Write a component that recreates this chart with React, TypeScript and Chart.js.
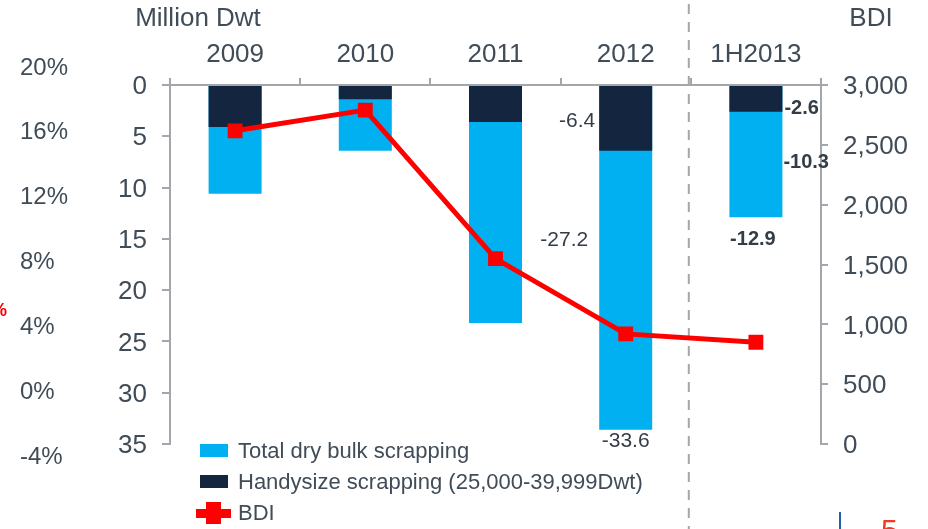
import React, { useEffect, useRef } from 'react';
import { Chart, registerables } from 'chart.js';

Chart.register(...registerables);

// ---------------- data ----------------
const categories = ['2009', '2010', '2011', '2012', '1H2013'];
const totalScrapping = [10.6, 6.4, 23.2, 33.6, 12.9];
const handysizeScrapping = [4.1, 1.4, 3.6, 6.4, 2.6];
const bdiValues = [2617, 2790, 1549, 920, 850];
const dwtTicks = [0, 5, 10, 15, 20, 25, 30, 35];
const bdiTicks = [0, 500, 1000, 1500, 2000, 2500, 3000];
const pctTicks = [-4, 0, 4, 8, 12, 16, 20];

const seriesLabels = {
  total: 'Total dry bulk scrapping',
  handy: 'Handysize scrapping (25,000-39,999Dwt)',
  bdi: 'BDI',
};

// ---------------- styles ----------------
const FONT = "'Liberation Sans', Arial, sans-serif";
const TEXT = '#404c57';
const LABEL = '#333d47';
const AXIS = '#a3a7ab';
const LIGHT = '#00b0f0';
const NAVY = '#13253f';
const RED = '#ff0000';
const PCT_MIN = -3.26;
const PCT_MAX = 18.89;

const fmt = (v: number) => '-' + v.toFixed(1);

const decorPlugin = {
  id: 'decor',
  beforeDatasetsDraw(chart: any) {
    const { ctx } = chart;
    const xs = chart.scales.x;
    const xDash = (xs.getPixelForValue(3) + xs.getPixelForValue(4)) / 2 - 2;
    ctx.save();
    ctx.strokeStyle = '#a6a6a6';
    ctx.lineWidth = 2;
    ctx.setLineDash([10, 8]);
    ctx.beginPath();
    ctx.moveTo(xDash, 4);
    ctx.lineTo(xDash, chart.height);
    ctx.stroke();
    ctx.restore();
  },
  afterDraw(chart: any) {
    const { ctx, chartArea } = chart;
    const ys = chart.scales.y;
    const y1 = chart.scales.y1;
    ctx.save();
    // axis titles
    ctx.fillStyle = TEXT;
    ctx.font = `26px ${FONT}`;
    ctx.textAlign = 'center';
    ctx.textBaseline = 'middle';
    ctx.fillText('Million Dwt', ys.right + 28, chartArea.top - 66);
    ctx.fillText('BDI', y1.left + 50, chartArea.top - 66);

    // legend
    const order = [1, 2, 0];
    const lx = chartArea.left + 30;
    order.forEach((di, row) => {
      const ds = chart.data.datasets[di];
      const cy = chartArea.bottom + 7 + row * 31;
      if (ds.type === 'line') {
        ctx.fillStyle = RED;
        ctx.fillRect(lx - 4, cy - 4, 35, 9);
        ctx.fillRect(lx + 6, cy - 11, 15, 22);
      } else {
        ctx.fillStyle = ds.backgroundColor;
        ctx.fillRect(lx, cy - 7, 28, 13);
      }
      ctx.fillStyle = TEXT;
      ctx.font = `22px ${FONT}`;
      ctx.textAlign = 'left';
      ctx.textBaseline = 'middle';
      ctx.fillText(ds.label, lx + 38, cy + 1);
    });

    // slide remnants
    ctx.fillStyle = RED;
    ctx.font = `bold 18px ${FONT}`;
    ctx.textAlign = 'left';
    ctx.fillText('%', -9, 311);
    ctx.fillStyle = '#1f5fad';
    ctx.fillRect(839, 512, 2, 20);
    ctx.fillStyle = '#ef3b24';
    ctx.font = `30px ${FONT}`;
    ctx.textBaseline = 'top';
    ctx.fillText('5', 881, 517);
    ctx.restore();
  },
};

const labelPlugin = {
  id: 'barLabels',
  afterDatasetsDraw(chart: any) {
    const { ctx } = chart;
    const ys = chart.scales.y;
    const totalMeta = chart.getDatasetMeta(1);
    const y0 = ys.getPixelForValue(0);
    const put = (text: string, x: number, y: number, align: string, bold: boolean) => {
      ctx.save();
      ctx.fillStyle = LABEL;
      ctx.font = `${bold ? 'bold 20px' : '21px'} ${FONT}`;
      ctx.textAlign = align;
      ctx.textBaseline = 'middle';
      ctx.fillText(text, x, y);
      ctx.restore();
    };
    // 2012
    {
      const i = 3;
      const bar = totalMeta.data[i];
      const left = bar.x - bar.width / 2;
      const yH = ys.getPixelForValue(handysizeScrapping[i]);
      const yT = ys.getPixelForValue(totalScrapping[i]);
      put(fmt(handysizeScrapping[i]), left - 4, (y0 + yH) / 2 + 3, 'right', false);
      put(fmt(totalScrapping[i] - handysizeScrapping[i]), left - 11, yH + 0.32 * (yT - yH), 'right', false);
      put(fmt(totalScrapping[i]), bar.x, yT + 12, 'center', false);
    }
    // 1H2013
    {
      const i = 4;
      const bar = totalMeta.data[i];
      const right = bar.x + bar.width / 2;
      const yH = ys.getPixelForValue(handysizeScrapping[i]);
      const yT = ys.getPixelForValue(totalScrapping[i]);
      put(fmt(handysizeScrapping[i]), right + 2, yH - 3, 'left', true);
      put(fmt(totalScrapping[i] - handysizeScrapping[i]), right + 1, (yH + yT) / 2 - 2, 'left', true);
      put(fmt(totalScrapping[i]), bar.x - 3, yT + 22, 'center', true);
    }
  },
};

export default function App() {
  const ref = useRef<HTMLCanvasElement | null>(null);

  useEffect(() => {
    if (!ref.current) return;
    const tickFont = { family: FONT, size: 26 };
    const chart = new Chart(ref.current, {
      type: 'bar',
      data: {
        labels: categories,
        datasets: [
          {
            type: 'line',
            label: seriesLabels.bdi,
            data: bdiValues,
            yAxisID: 'y1',
            borderColor: RED,
            backgroundColor: RED,
            borderWidth: 5,
            pointStyle: 'rect',
            pointRadius: 10.5,
            pointBorderWidth: 0,
            pointBackgroundColor: RED,
            tension: 0,
            order: 0,
          } as any,
          {
            type: 'bar',
            label: seriesLabels.total,
            data: totalScrapping,
            yAxisID: 'y',
            backgroundColor: LIGHT,
            barPercentage: 0.407,
            categoryPercentage: 1,
            order: 2,
          },
          {
            type: 'bar',
            label: seriesLabels.handy,
            data: handysizeScrapping,
            yAxisID: 'y',
            backgroundColor: NAVY,
            barPercentage: 0.407,
            categoryPercentage: 1,
            order: 1,
          },
        ],
      },
      options: {
        responsive: false,
        animation: false,
        layout: { padding: { top: 35, left: 20, right: 0, bottom: 85 } },
        plugins: { legend: { display: false }, tooltip: { enabled: false }, title: { display: false } },
        scales: {
          x: {
            type: 'category',
            position: 'top',
            stacked: true,
            offset: true,
            grid: { display: true, drawOnChartArea: false, tickLength: 7, color: AXIS, lineWidth: 2, offset: true },
            border: { display: true, color: AXIS, width: 2 },
            ticks: { font: tickFont, color: TEXT, padding: 8, maxRotation: 0, autoSkip: false },
            afterFit: (s: any) => { s.height = 50; },
          },
          y: {
            type: 'linear',
            position: 'left',
            reverse: true,
            min: 0,
            max: 35,
            weight: 0,
            grid: { drawOnChartArea: false, tickLength: 8, color: AXIS, lineWidth: 2 },
            border: { color: AXIS, width: 2 },
            ticks: { font: tickFont, color: TEXT, padding: 15, autoSkip: false, labelOffset: 2 },
            afterBuildTicks: (s: any) => { s.ticks = dwtTicks.map((v) => ({ value: v })); },
            afterFit: (s: any) => { s.width = 52; },
          },
          pct: {
            type: 'linear',
            position: 'left',
            min: PCT_MIN,
            max: PCT_MAX,
            weight: 10,
            grid: { display: false, drawTicks: false },
            border: { display: false },
            ticks: {
              font: { family: FONT, size: 24 },
              color: TEXT,
              crossAlign: 'far',
              padding: 0,
              autoSkip: false,
              labelOffset: 1,
              callback: (v: any) => v + '%',
            },
            afterBuildTicks: (s: any) => { s.ticks = pctTicks.map((v) => ({ value: v })); },
            afterFit: (s: any) => { s.width = 98; },
          },
          y1: {
            type: 'linear',
            position: 'right',
            min: 0,
            max: 3000,
            grid: { drawOnChartArea: false, tickLength: 7, color: AXIS, lineWidth: 2 },
            border: { color: AXIS, width: 2 },
            ticks: {
              font: tickFont,
              color: TEXT,
              padding: 15,
              autoSkip: false,
              labelOffset: 2,
              callback: (v: any) => Number(v).toLocaleString('en-US'),
            },
            afterBuildTicks: (s: any) => { s.ticks = bdiTicks.map((v) => ({ value: v })); },
            afterFit: (s: any) => { s.width = 107; },
          },
        },
      } as any,
      plugins: [decorPlugin, labelPlugin],
    });
    return () => chart.destroy();
  }, []);

  return (
    <div style={{ position: 'absolute', left: 0, top: 0, width: 928, height: 529, overflow: 'hidden', background: '#fff' }}>
      <canvas ref={ref} width={928} height={529} style={{ display: 'block' }} />
    </div>
  );
}
